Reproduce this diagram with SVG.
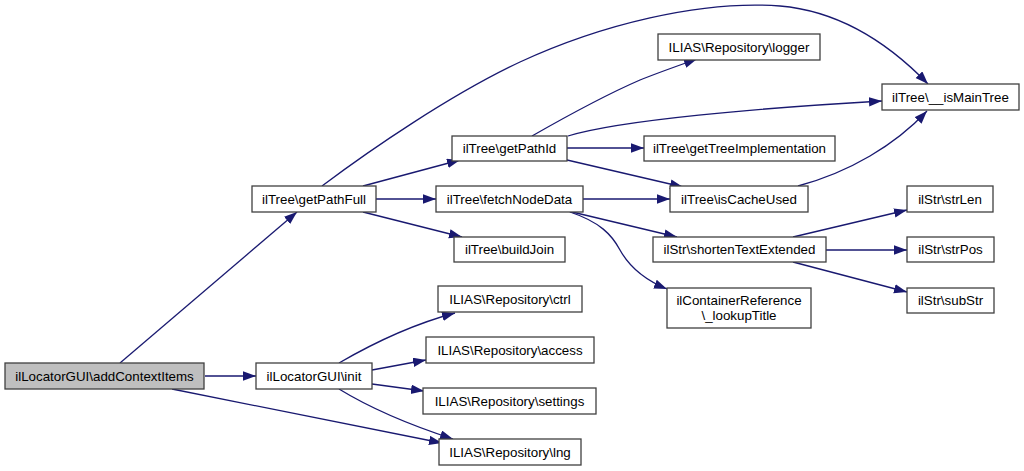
<svg xmlns="http://www.w3.org/2000/svg" width="1024" height="471" viewBox="0 0 1024 471">
<style>
.n rect{fill:#ffffff;stroke:#404040;stroke-width:1.3}
.n text{font-family:"Liberation Sans",Arial,sans-serif;font-size:13.33px;fill:#000;text-anchor:middle}
.e path{fill:none;stroke:#191970;stroke-width:1.3;marker-end:url(#ah)}
</style>
<defs>
<marker id="ah" markerUnits="userSpaceOnUse" markerWidth="14" markerHeight="10" refX="13" refY="4.7" orient="auto">
<path d="M0,0 L13,4.7 L0,9.4 z" fill="#191970" stroke="none"/>
</marker>
</defs>
<rect width="1024" height="471" fill="#ffffff"/>
<g id="connectors" class="e">
<path d="M120,363 L297,212"/>
<path d="M205,376 L256,376"/>
<path d="M172,389 L442,443"/>
<path d="M339,363 C370,345 410,325 455,313"/>
<path d="M372,370 L426,360"/>
<path d="M372,384 L424,391"/>
<path d="M339,389 C370,408 410,425 453,439"/>
<path d="M322,186 C370,150 450,95 520,62 C600,25 700,0 780,6 C850,12 900,55 928,84"/>
<path d="M363,186 L460,160"/>
<path d="M376,199 L436,199"/>
<path d="M363,212 L462,237"/>
<path d="M532,136 C560,120 610,93 640,80 C660,72 680,65 697,59"/>
<path d="M568,136 C620,120 760,108 882,101"/>
<path d="M567,148 L644,148"/>
<path d="M567,160 L683,187"/>
<path d="M583,199 L670,199"/>
<path d="M568,211 L677,237"/>
<path d="M570,212 C600,222 612,235 620,250 C630,268 645,280 667,289"/>
<path d="M798,186 C850,172 895,145 927,111"/>
<path d="M793,237 L907,210"/>
<path d="M826,250 L907,250"/>
<path d="M793,262 L907,292"/>
</g>
<g id="addContextItems" class="n"><rect x="5" y="363" width="199" height="26" style="fill:#bfbfbf"/><text x="104.5" y="380.5">ilLocatorGUI\addContextItems</text></g>
<g id="getPathFull" class="n"><rect x="252" y="186" width="124" height="26"/><text x="314" y="203.5">ilTree\getPathFull</text></g>
<g id="init" class="n"><rect x="256" y="363" width="116" height="26"/><text x="314" y="380.5">ilLocatorGUI\init</text></g>
<g id="getPathId" class="n"><rect x="452" y="136" width="115" height="25"/><text x="509.5" y="153">ilTree\getPathId</text></g>
<g id="fetchNodeData" class="n"><rect x="436" y="186" width="147" height="26"/><text x="509.5" y="203.5">ilTree\fetchNodeData</text></g>
<g id="buildJoin" class="n"><rect x="454" y="237" width="111" height="25"/><text x="509.5" y="254">ilTree\buildJoin</text></g>
<g id="ctrl" class="n"><rect x="438" y="286" width="144" height="26"/><text x="510" y="303.5">ILIAS\Repository\ctrl</text></g>
<g id="access" class="n"><rect x="426" y="337" width="168" height="26"/><text x="510" y="354.5">ILIAS\Repository\access</text></g>
<g id="settings" class="n"><rect x="423" y="388" width="173" height="26"/><text x="509.5" y="405.5">ILIAS\Repository\settings</text></g>
<g id="lng" class="n"><rect x="439" y="439" width="142" height="26"/><text x="510" y="456.5">ILIAS\Repository\lng</text></g>
<g id="logger" class="n"><rect x="658" y="34" width="162" height="26"/><text x="739" y="51.5">ILIAS\Repository\logger</text></g>
<g id="getTreeImplementation" class="n"><rect x="644" y="136" width="191" height="25"/><text x="739.5" y="153">ilTree\getTreeImplementation</text></g>
<g id="isCacheUsed" class="n"><rect x="670" y="186" width="138" height="26"/><text x="739" y="203.5">ilTree\isCacheUsed</text></g>
<g id="shortenTextExtended" class="n"><rect x="653" y="237" width="173" height="25"/><text x="739.5" y="254">ilStr\shortenTextExtended</text></g>
<g id="lookupTitle" class="n"><rect x="667" y="288" width="144" height="40"/><text x="739" y="304.5">ilContainerReference</text><text x="739" y="319.5">\_lookupTitle</text></g>
<g id="isMainTree" class="n"><rect x="882" y="84" width="137" height="26"/><text x="950.5" y="101.5">ilTree\__isMainTree</text></g>
<g id="strLen" class="n"><rect x="907" y="186" width="86" height="26"/><text x="950" y="203.5">ilStr\strLen</text></g>
<g id="strPos" class="n"><rect x="907" y="237" width="87" height="25"/><text x="950.5" y="254">ilStr\strPos</text></g>
<g id="subStr" class="n"><rect x="907" y="288" width="87" height="25"/><text x="950.5" y="305">ilStr\subStr</text></g>
</svg>
